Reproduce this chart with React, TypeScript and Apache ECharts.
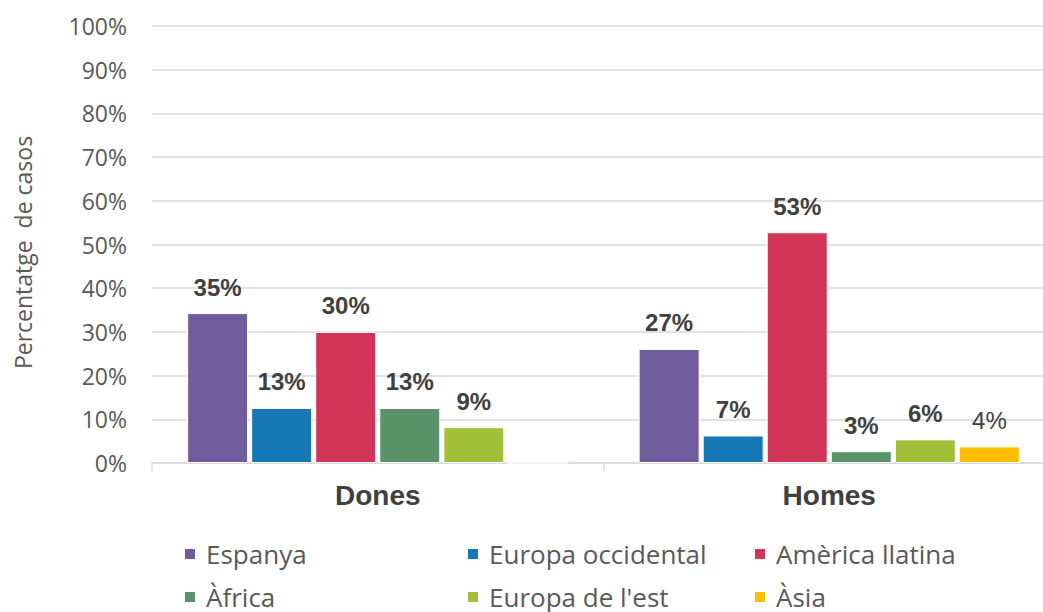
import React, { useEffect, useRef } from "react";
import * as echarts from "echarts";

const categories = ["Dones", "Homes"];
const seriesNames = ["Espanya", "Europa occidental", "Amèrica llatina", "Àfrica", "Europa de l'est", "Àsia"];
const seriesColors = ["#705c9c", "#1679b5", "#d23457", "#5a9369", "#a2bf3a", "#fdbf00"];
// values per series: [Dones, Homes]
const espanya = [34.3, 26.1];
const europaOccidental = [12.6, 6.3];
const americaLlatina = [30.0, 52.8];
const africa = [12.6, 2.7];
const europaEst = [8.2, 5.4];
const asia = [0, 3.8];
// displayed labels
const espanyaLabels = ["35%", "27%"];
const europaOccidentalLabels = ["13%", "7%"];
const americaLlatinaLabels = ["30%", "53%"];
const africaLabels = ["13%", "3%"];
const europaEstLabels = ["9%", "6%"];
const asiaLabels = ["", "4%"];
const yTicks = [0, 10, 20, 30, 40, 50, 60, 70, 80, 90, 100];

const allValues = [espanya, europaOccidental, americaLlatina, africa, europaEst, asia];
const allLabels = [espanyaLabels, europaOccidentalLabels, americaLlatinaLabels, africaLabels, europaEstLabels, asiaLabels];

const legendPos = [
  { left: 183, top: 540 },
  { left: 466, top: 540 },
  { left: 753, top: 540 },
  { left: 183, top: 583 },
  { left: 466, top: 583 },
  { left: 753, top: 583 },
];

export default function App() {
  const ref = useRef<HTMLDivElement>(null);
  useEffect(() => {
    if (!ref.current) return;
    const chart = echarts.init(ref.current, null, { renderer: "svg" });
    const series = seriesNames.map((name, i) => ({
      name,
      type: "bar",
      barWidth: 61,
      barGap: "5%",
      itemStyle: { color: seriesColors[i], borderColor: "#ffffff", borderWidth: 1 },
      data: allValues[i].map((v, j) => ({
        value: v,
        label: {
          show: allLabels[i][j] !== "",
          formatter: allLabels[i][j],
          fontWeight: name === "Àsia" ? "normal" : "bold",
        },
      })),
      label: {
        show: true,
        position: "top",
        distance: 14,
        fontFamily: "Liberation Sans, Arial, sans-serif",
        fontSize: 24,
        color: "#404040",
      },
    }));
    chart.setOption({
      animation: false,
      grid: { left: 152, right: -12, top: 26, bottom: 149, outerBoundsMode: "none", containLabel: false },
      xAxis: {
        type: "category",
        data: categories,
        axisLine: { lineStyle: { color: "#d9d9d9", width: 1.5 } },
        axisTick: { show: true, length: 8, lineStyle: { color: "#d9d9d9", width: 1.5 } },
        axisLabel: {
          margin: 18,
          fontFamily: "Liberation Sans, Arial, sans-serif",
          fontWeight: "bold",
          fontSize: 28,
          color: "#404040",
        },
      },
      yAxis: {
        type: "value",
        min: 0,
        max: 100,
        interval: 10,
        name: "Percentatge  de casos",
        nameLocation: "middle",
        nameGap: 118,
        nameRotate: 90,
        nameTextStyle: {
          fontFamily: "Open Sans, sans-serif",
          fontSize: 23,
          color: "#595959",
          padding: [0, 16, 0, 0],
        },
        axisLine: { show: false },
        axisTick: { show: false },
        splitLine: { lineStyle: { color: "#d9d9d9", width: 1.5 } },
        axisLabel: {
          margin: 25,
          fontFamily: "Open Sans, sans-serif",
          fontSize: 23,
          color: "#595959",
          formatter: (v: number) => (yTicks.includes(v) ? v + "%" : ""),
        },
      },
      legend: seriesNames.map((name, i) => ({
        data: [name],
        left: legendPos[i].left,
        top: legendPos[i].top,
        padding: 0,
        itemWidth: 12,
        itemHeight: 12,
        icon: "rect",
        textStyle: {
          fontFamily: "Open Sans, sans-serif",
          fontSize: 26,
          lineHeight: 28,
          color: "#595959",
          padding: [0, 0, 0, 5],
        },
      })),
      series,
    });
    return () => chart.dispose();
  }, []);
  return <div ref={ref} style={{ width: 1043, height: 612, position: "absolute", left: 0, top: 0 }} />;
}
